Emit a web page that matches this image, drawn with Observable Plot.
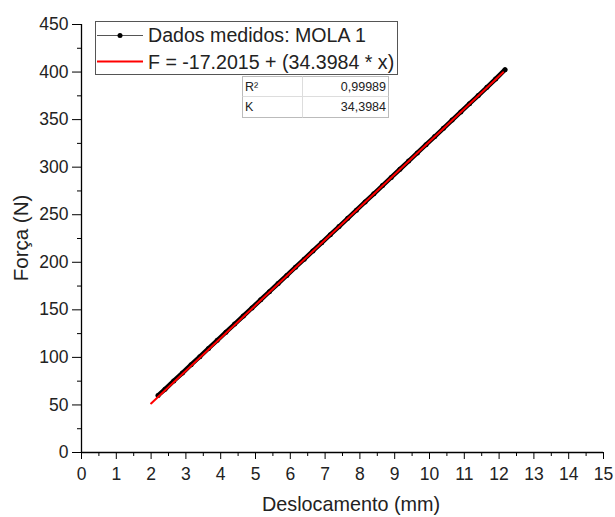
<!DOCTYPE html>
<html>
<head>
<meta charset="utf-8">
<script src="https://cdn.jsdelivr.net/npm/d3@7"></script>
<script src="https://cdn.jsdelivr.net/npm/@observablehq/plot@0.6"></script>
<style>
  html, body { margin: 0; padding: 0; background: #fff; }
  #chart svg { font-family: "Liberation Sans", Arial, sans-serif; }
</style>
</head>
<body>
<div id="chart"></div>
<script>
// Measured data (MOLA 1)
const dispX = [2.2, 2.4, 2.65, 2.9, 3.15, 3.4, 3.65, 3.9, 4.15, 4.4, 4.65, 4.9, 5.15, 5.4, 5.65, 5.9, 6.15, 6.4, 6.65, 6.9, 7.15, 7.4, 7.65, 7.9, 8.15, 8.4, 8.65, 8.9, 9.15, 9.4, 9.65, 9.9, 10.15, 10.4, 10.65, 10.9, 11.15, 11.4, 11.65, 11.9, 12.17];
const forceY = [60, 66.5, 75.2, 83.6, 92.3, 100.8, 109.4, 117.9, 126.5, 135.0, 143.5, 152.0, 160.6, 169.1, 177.7, 186.2, 194.8, 203.3, 211.9, 220.5, 229.0, 237.6, 246.2, 254.8, 263.4, 272.0, 280.6, 289.2, 297.8, 306.4, 315.0, 323.6, 332.2, 340.8, 349.5, 358.1, 366.7, 375.3, 384.0, 392.7, 402.5];
// Linear fit line endpoints
const fitX = [2.0, 12.12];
const fitY = [51.6, 399.7];
// Ticks
const xTicks = [0, 1, 2, 3, 4, 5, 6, 7, 8, 9, 10, 11, 12, 13, 14, 15];
const xMinor = [0.5, 1.5, 2.5, 3.5, 4.5, 5.5, 6.5, 7.5, 8.5, 9.5, 10.5, 11.5, 12.5, 13.5, 14.5];
const yTicks = [0, 50, 100, 150, 200, 250, 300, 350, 400, 450];
const yMinor = [25, 75, 125, 175, 225, 275, 325, 375, 425];
// Texts
const legendLabels = ["Dados medidos: MOLA 1", "F = -17.2015 + (34.3984 * x)"];
const statNames = ["R²", "K"];
const statValues = ["0,99989", "34,3984"];
const xLabel = "Deslocamento (mm)";
const yLabel = "Força (N)";

const measured = dispX.map((x, i) => ({x, y: forceY[i]}));
const fit = fitX.map((x, i) => ({x, y: fitY[i]}));

const plot = Plot.plot({
  width: 615,
  height: 517,
  marginLeft: 81,
  marginRight: 12,
  marginTop: 24,
  marginBottom: 65,
  style: {fontFamily: '"Liberation Sans", Arial, sans-serif', fontSize: "17.5px", color: "#222"},
  x: {domain: [0, 15]},
  y: {domain: [0, 450]},
  marks: [
    Plot.axisX({ticks: xTicks, tickSize: 7, tickPadding: 8, label: null, tickFormat: d => String(d), fontSize: 17.5, stroke: "#000"}),
    Plot.axisX({ticks: xMinor, tickSize: 4, label: null, tickFormat: () => "", stroke: "#000"}),
    Plot.axisY({ticks: yTicks, tickSize: 9, tickPadding: 4, label: null, tickFormat: d => String(d), fontSize: 17.5, stroke: "#000"}),
    Plot.axisY({ticks: yMinor, tickSize: 4, label: null, tickFormat: () => "", stroke: "#000"}),
    Plot.ruleX([0], {stroke: "#000", strokeWidth: 1.3}),
    Plot.ruleY([0], {stroke: "#000", strokeWidth: 1.3}),
    Plot.line(measured, {x: "x", y: "y", stroke: "#000", strokeWidth: 4.5, strokeLinecap: "round"}),
    Plot.dot(measured, {x: "x", y: "y", r: 2.5, fill: "#000", stroke: "none"}),
    Plot.line(fit, {x: "x", y: "y", stroke: "#ff0000", strokeWidth: 2})
  ]
});

document.getElementById("chart").appendChild(plot);

const svg = d3.select(plot);
const font = '"Liberation Sans", Arial, sans-serif';

// Axis labels
svg.append("text").attr("x", 351).attr("y", 511).attr("text-anchor", "middle")
  .attr("font-size", 19.8).attr("font-family", font).attr("fill", "#222").text(xLabel);
svg.append("text").attr("transform", "translate(28,238) rotate(-90)").attr("text-anchor", "middle")
  .attr("font-size", 20.5).attr("font-family", font).attr("fill", "#222").text(yLabel);

// Legend
const lg = svg.append("g").attr("text-anchor", "start");
lg.append("rect").attr("x", 95.5).attr("y", 21.5).attr("width", 302).attr("height", 53)
  .attr("fill", "#fff").attr("stroke", "#555").attr("stroke-width", 1);
lg.append("line").attr("x1", 97).attr("x2", 143).attr("y1", 35.5).attr("y2", 35.5).attr("stroke", "#555").attr("stroke-width", 1);
lg.append("circle").attr("cx", 120).attr("cy", 35.5).attr("r", 2.5).attr("fill", "#000");
lg.append("line").attr("x1", 97).attr("x2", 143).attr("y1", 61.5).attr("y2", 61.5).attr("stroke", "#ff0000").attr("stroke-width", 2);
legendLabels.forEach((t, i) => {
  lg.append("text").attr("x", 148).attr("y", 42 + i * 26.5).attr("font-size", 19.6).attr("text-anchor", "start")
    .attr("font-family", font).attr("fill", "#222").text(t);
});

// Stats table
const tb = svg.append("g");
tb.append("rect").attr("x", 242.5).attr("y", 76.5).attr("width", 146).attr("height", 41)
  .attr("fill", "#fff").attr("stroke", "#bbb").attr("stroke-width", 1);
tb.append("line").attr("x1", 242.5).attr("x2", 388.5).attr("y1", 96.5).attr("y2", 96.5).attr("stroke", "#ddd");
tb.append("line").attr("x1", 302.5).attr("x2", 302.5).attr("y1", 76.5).attr("y2", 117.5).attr("stroke", "#ddd");
statNames.forEach((t, i) => {
  tb.append("text").attr("x", 245).attr("y", 91 + i * 20).attr("font-size", 12.5).attr("text-anchor", "start")
    .attr("font-family", font).attr("fill", "#222").text(t);
  tb.append("text").attr("x", 386).attr("y", 91 + i * 20).attr("font-size", 12.5).attr("text-anchor", "end")
    .attr("font-family", font).attr("fill", "#222").text(statValues[i]);
});
</script>
</body>
</html>
